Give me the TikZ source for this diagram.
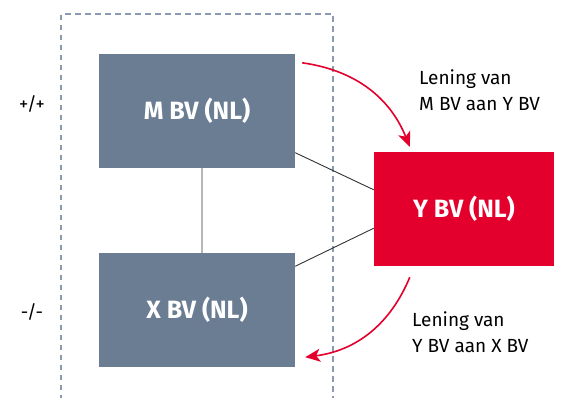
\documentclass[tikz,border=0pt]{standalone}
\usepackage{fontspec}
\setmainfont{Fira Sans}
\usetikzlibrary{positioning}
\usetikzlibrary{arrows.meta}
\definecolor{slate}{RGB}{106,125,147}
\definecolor{loanred}{RGB}{227,0,44}
\definecolor{framegray}{RGB}{138,154,176}

\begin{document}
\begin{tikzpicture}[
		x=1pt, y=-1pt,
		company/.style={rectangle, fill=slate, text=white, font=\fontsize{25}{29}\selectfont\bfseries, minimum width=196pt, minimum height=114pt, inner sep=0},
		loan/.style={draw=loanred, line width=1.6pt, -{Stealth[length=15pt,width=13pt,inset=4pt]}},
		link/.style={draw=black!80, line width=0.9pt},
		note/.style={align=left, anchor=north west, inner sep=0, font=\fontsize{19}{26.7}\selectfont},
		side/.style={font=\fontsize{18.5}{22}\selectfont}
	]
	\clip (0,0) rectangle (564,397);
	% dashed frame, open at the bottom
	\draw[framegray, dash pattern=on 5.5pt off 4.5pt, line width=1.3pt]
		(61,420) -- (61,14) -- (333,14) -- (333,420);
	\path
		(197,111) node[company](M){M BV (NL)}
		(197,310) node[company](X){X BV (NL)}
		(464,209) node[company, fill=loanred, minimum width=180pt](Y){Y BV (NL)}
		(32,104) node[side](plus){+/+}
		(32,312) node[side](minus){-/-}
		(419,69) node[note](loanMY){Lening van\\M BV aan Y BV}
		(412,311) node[note](loanYX){Lening van\\Y BV aan X BV}
	;
	\coordinate (mOut) at ([shift={(7pt,-9pt)}]M.north east);
	\coordinate (yIn) at ([shift={(36pt,5pt)}]Y.north west);
	\coordinate (yOut) at ([shift={(36pt,-11pt)}]Y.south west);
	\coordinate (xIn) at ([shift={(10pt,10pt)}]X.south east);
	\draw[link]
		([xshift=5pt]M.south) -- ([xshift=5pt]X.north)
		(M.-23) -- (Y.168)
		(X.24) -- (Y.192)
	;
	% \draw[loan] (M) -- (Y);
	\draw[loan] (mOut) to[bend left=30] (yIn);
	\draw[loan] (yOut) to[bend left=30] (xIn);
\end{tikzpicture}
\end{document}
